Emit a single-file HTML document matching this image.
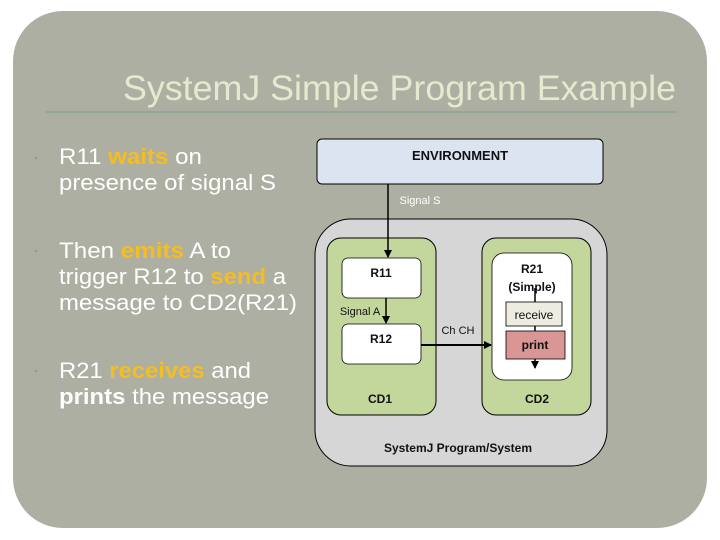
<!DOCTYPE html>
<html><head><meta charset="utf-8"><style>
html,body{margin:0;padding:0;background:#fff;}
svg{display:block;}
</style></head><body>
<svg width="720" height="540" viewBox="0 0 720 540" xmlns="http://www.w3.org/2000/svg">
<defs>
<marker id="ah" markerWidth="8" markerHeight="8" refX="7" refY="4" orient="auto" markerUnits="userSpaceOnUse">
<path d="M0,0 L8,4 L0,8 z" fill="#000"/></marker>
</defs>
<rect x="13" y="11" width="694" height="517" rx="50" fill="#aeafa3"/>
<text x="123" y="100" font-family="Liberation Sans, sans-serif" font-size="35" fill="#e6e9cd" textLength="553" lengthAdjust="spacingAndGlyphs">SystemJ Simple Program Example</text>
<line x1="46" y1="112" x2="677" y2="112" stroke="#86a086" stroke-width="1.2"/>
<g font-family="Liberation Sans, sans-serif" font-size="22" fill="#fff" lengthAdjust="spacingAndGlyphs">
<circle cx="36" cy="158" r="1.2" fill="#8a9a8a"/>
<circle cx="36" cy="251" r="1.2" fill="#8a9a8a"/>
<circle cx="36" cy="371" r="1.2" fill="#8a9a8a"/>
<text x="59" y="164" textLength="143" lengthAdjust="spacingAndGlyphs">R11 <tspan fill="#f5bd1f" font-weight="bold">waits</tspan> on</text>
<text x="59" y="190" textLength="217" lengthAdjust="spacingAndGlyphs">presence of signal S</text>
<text x="59" y="258" textLength="172" lengthAdjust="spacingAndGlyphs">Then <tspan fill="#f5bd1f" font-weight="bold">emits</tspan> A to</text>
<text x="59" y="284" textLength="227" lengthAdjust="spacingAndGlyphs">trigger R12 to <tspan fill="#f5bd1f" font-weight="bold">send</tspan> a</text>
<text x="59" y="310" textLength="238" lengthAdjust="spacingAndGlyphs">message to CD2(R21)</text>
<text x="59" y="378" textLength="192" lengthAdjust="spacingAndGlyphs">R21 <tspan fill="#f5bd1f" font-weight="bold">receives</tspan> and</text>
<text x="59" y="404" textLength="210" lengthAdjust="spacingAndGlyphs"><tspan font-weight="bold">prints</tspan> the message</text>
</g>
<rect x="317" y="139" width="286" height="45" rx="5" fill="#dbe4f0" stroke="#000" stroke-width="1"/>
<rect x="315" y="219" width="292" height="247" rx="36" fill="#d6d6d6" stroke="#000" stroke-width="1"/>
<rect x="327" y="238" width="109" height="177" rx="14" fill="#c3d69b" stroke="#000" stroke-width="1"/>
<rect x="482" y="238" width="109" height="177" rx="14" fill="#c3d69b" stroke="#000" stroke-width="1"/>
<rect x="342" y="258" width="79" height="40" rx="6" fill="#fff" stroke="#000" stroke-width="0.8"/>
<rect x="342" y="324" width="79" height="40" rx="6" fill="#fff" stroke="#000" stroke-width="0.8"/>
<rect x="492" y="253" width="80" height="127" rx="12" fill="#fff" stroke="#000" stroke-width="0.8"/>
<line x1="535" y1="288" x2="535" y2="302" stroke="#000" stroke-width="1.5"/>
<line x1="535" y1="326" x2="535" y2="331" stroke="#000" stroke-width="1.5"/>
<rect x="506" y="302" width="56" height="24" fill="#eeece1" stroke="#000" stroke-width="0.8"/>
<rect x="506" y="331" width="59" height="28" fill="#d99694" stroke="#000" stroke-width="0.8"/>
<line x1="535" y1="359" x2="535" y2="368" stroke="#000" stroke-width="1.5" marker-end="url(#ah)"/>
<line x1="388" y1="184" x2="388" y2="257" stroke="#000" stroke-width="1.5" marker-end="url(#ah)"/>
<line x1="386" y1="298" x2="386" y2="323" stroke="#000" stroke-width="1.5" marker-end="url(#ah)"/>
<line x1="421" y1="345" x2="491" y2="345" stroke="#000" stroke-width="2" marker-end="url(#ah)"/>
<g font-family="Liberation Sans, sans-serif" font-size="12" font-weight="bold" fill="#111" text-anchor="middle">
<text x="460" y="160" font-size="13">ENVIRONMENT</text>
<text x="381" y="277">R11</text>
<text x="381" y="343">R12</text>
<text x="532" y="273">R21</text>
<text x="532" y="291">(Simple)</text>
<text x="534" y="319" font-weight="normal">receive</text>
<text x="535" y="349">print</text>
<text x="380" y="403">CD1</text>
<text x="537" y="403">CD2</text>
<text x="458" y="452">SystemJ Program/System</text>
</g>
<g font-family="Liberation Sans, sans-serif" font-size="11" text-anchor="middle">
<text x="420" y="204" fill="#fff">Signal S</text>
<text x="360" y="315" fill="#111">Signal  A</text>
<text x="458" y="334" fill="#111">Ch CH</text>
</g>
</svg>
</body></html>
